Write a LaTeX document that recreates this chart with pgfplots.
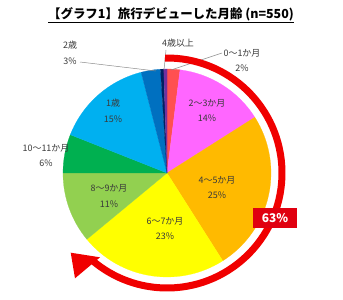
\documentclass[border=0pt]{standalone}
\usepackage{pgfplots}
\pgfplotsset{compat=1.18}
\usepackage{pgfplotstable}
\usepackage{fontspec}
\setmainfont{Noto Sans CJK JP}
\usetikzlibrary{arrows.meta}

\definecolor{s01}{HTML}{FF5050}
\definecolor{s02}{HTML}{FF66FF}
\definecolor{s03}{HTML}{FFBA00}
\definecolor{s04}{HTML}{FFFF00}
\definecolor{s05}{HTML}{92D050}
\definecolor{s06}{HTML}{00B050}
\definecolor{s07}{HTML}{00B0F0}
\definecolor{s08}{HTML}{0070C0}
\definecolor{s09}{HTML}{002060}
\definecolor{s10}{HTML}{7030A0}
\definecolor{arcred}{HTML}{F00000}
\definecolor{boxred}{HTML}{E00010}
\definecolor{labgray}{HTML}{3A3A3A}
\definecolor{leader}{HTML}{8C8C8C}

% share of each age group (percent), clockwise from 12 o'clock
\pgfplotstableread{
value col
2.0  s01
14.0 s02
25.0 s03
23.0 s04
11.0 s05
6.0  s06
15.0 s07
3.0  s08
0.5  s09
0.5  s10
}\pietable

\begin{document}
\begin{tikzpicture}
\begin{axis}[
  width=343bp, height=300bp, scale only axis,
  xmin=0, xmax=343, ymin=0, ymax=300,
  hide axis, clip=false,
]
\path (axis cs:0,0) rectangle (axis cs:343,300);
\pgfplotsextra{
  \pgfplotstablegetrowsof{\pietable}
  \pgfmathtruncatemacro\nrows{\pgfplotsretval-1}
  \def\startang{90}
  \pgfplotsforeachungrouped \i in {0,...,\nrows}{
    \pgfplotstablegetelem{\i}{value}\of\pietable \let\v\pgfplotsretval
    \pgfplotstablegetelem{\i}{col}\of\pietable \let\c\pgfplotsretval
    \pgfmathsetmacro\endang{\startang-3.6*\v}
    \edef\cmd{\noexpand\fill[\c, draw=\c, line width=0.2bp]
      (axis cs:167,127) -- ++(\startang:104bp)
      arc[start angle=\startang, end angle=\endang, radius=104bp] -- cycle;}
    \cmd
    \global\let\startang\endang
  }
  % leader lines
  \draw[leader, line width=0.5bp] (axis cs:80,238) -- (axis cs:156,229);
  \draw[leader, line width=0.5bp] (axis cs:166,250) -- (axis cs:164,230);
  \draw[leader, line width=0.5bp] (axis cs:222,247) -- (axis cs:171,230);
  % red circular arrow
  \draw[arcred, line width=7bp] (axis cs:167,127) ++(91:115bp)
     arc[start angle=91, end angle=-131, radius=115bp];
  \fill[arcred] (axis cs:70.7,47.3) -- (axis cs:100,42.7) -- (axis cs:75,21.7) -- cycle;
}
% title
\node[font=\bfseries\fontsize{12.5}{14}\selectfont, inner sep=0] at (axis cs:171,285)
  {\underline{【グラフ1】旅行デビューした月齢 (n=550)}};
% data labels
\tikzset{lab/.style={font=\fontsize{9}{16}\selectfont, text=labgray, align=center, inner sep=0}}
\node[lab] at (axis cs:242,239.5) {0〜1か月\\2\%};
\node[lab] at (axis cs:207,189.5) {2〜3か月\\14\%};
\node[lab] at (axis cs:217,112.5) {4〜5か月\\25\%};
\node[lab] at (axis cs:165,71.5) {6〜7か月\\23\%};
\node[lab] at (axis cs:109,104) {8〜9か月\\11\%};
\node[lab] at (axis cs:46,144.5) {10〜11か月\\6\%};
\node[lab] at (axis cs:113,189) {1歳\\15\%};
\node[lab] at (axis cs:70,247.5) {2歳\\3\%};
\node[lab] at (axis cs:178,257) {4歳以上};
% 63% box
\node[fill=boxred, text=white, font=\bfseries\fontsize{12}{13}\selectfont,
      minimum width=44bp, minimum height=20bp, inner sep=0] at (axis cs:275,82) {63\%};
\end{axis}
\end{tikzpicture}
\end{document}
